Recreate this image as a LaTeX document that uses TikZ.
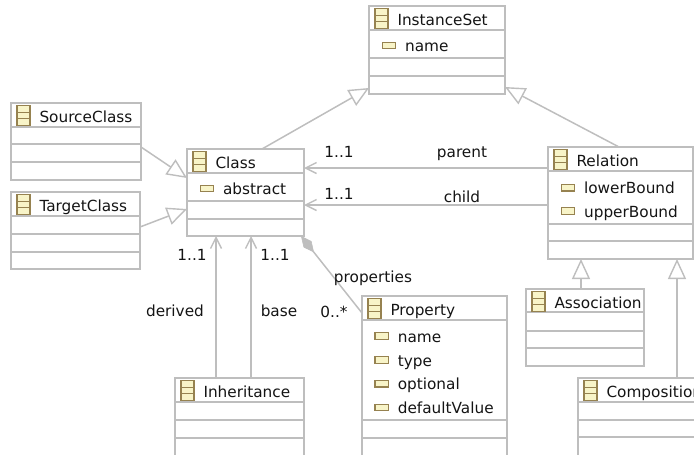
\documentclass[tikz,border=0pt]{standalone}
\usepackage{fontspec}
\setmainfont{DejaVu Sans}
\usetikzlibrary{arrows.meta}

\definecolor{umlline}{RGB}{190,190,190}
\definecolor{iconedge}{RGB}{150,130,80}
\definecolor{iconfill}{RGB}{248,244,200}
\definecolor{umltext}{RGB}{20,20,20}

\tikzset{
  classbox/.style={draw=umlline,line width=1.5pt,outer sep=0pt,inner sep=0pt,anchor=north west},
  classicon/.style={draw=iconedge,fill=iconfill,line width=1.2pt,anchor=north west,outer sep=0pt,inner sep=0pt,
    minimum width=13pt,minimum height=20pt,
    path picture={
      \draw[iconedge,line width=1pt]([yshift=3.3pt]path picture bounding box.west)--([yshift=3.3pt]path picture bounding box.east);
      \draw[iconedge,line width=1pt]([yshift=-3.3pt]path picture bounding box.west)--([yshift=-3.3pt]path picture bounding box.east);
    }},
  attricon/.style={draw=iconedge,fill=iconfill,line width=1.3pt,anchor=west,outer sep=0pt,inner sep=0pt,
    minimum width=13.5pt,minimum height=6.5pt},
  umllabel/.style={text=umltext,font=\fontsize{15.3}{17}\selectfont,inner sep=0pt,outer sep=0pt},
  umlname/.style={umllabel,anchor=base west},
  connector/.style={draw=umlline,line width=1.5pt},
  inherits/.style={connector,-{Triangle[length=20pt,width=18pt,fill=white,line width=1.4pt]}},
  refers/.style={connector,-{Straight Barb[length=11pt,width=11pt,line width=1.4pt]}},
  contains/.style={connector,-{Diamond[length=21pt,width=10pt,fill=umlline,line width=.6pt]}},
}

% box: name, left, top, right, bottom, title, compartment lines
\newcommand{\umlclass}[7]{
  \node[classbox,minimum width=#4pt-#2pt,minimum height=#5pt-#3pt](#1)at(#2,#3){};
  \foreach \liney in {#7}{
    \draw[umlline,line width=1.5pt](#2,\liney)--(#4,\liney);
  }
  \node[classicon](#1-icon)at(#2+6,#3+2.3){};
  \node[umlname](#1-title)at(#2+28.5,#3+19.2){#6};
}
% attribute: name, left of icon, middle of icon, text
\newcommand{\umlattr}[4]{
  \node[attricon](#1-icon)at(#2,#3){};
  \node[umlname](#1)at(#2+22.8,#3+6.2){#4};
}

\begin{document}
\begin{tikzpicture}[x=1pt,y=-1pt]
  \useasboundingbox(0,0)rectangle(694,455);
  \clip(0,0)rectangle(694,455);

  \umlclass{instanceset}{369}{6}{505}{94}{InstanceSet}{30,58,76}
  \umlattr{instanceset-name}{382.3}{45.5}{name}

  \umlclass{sourceclass}{11}{103}{141}{180}{SourceClass}{127,144,162}
  \umlclass{targetclass}{11}{192}{140}{269}{TargetClass}{216,234,252}

  \umlclass{class}{187}{149}{304}{236}{Class}{173,201,219}
  \umlattr{class-abstract}{200.3}{188.5}{abstract}

  \umlclass{relation}{548}{147}{693}{259}{Relation}{171,224,241}
  \umlattr{relation-lower}{561.3}{187.7}{lowerBound}
  \umlattr{relation-upper}{561.3}{211}{upperBound}

  \umlclass{association}{526}{289}{644}{366}{Association}{312,331,348}
  \umlclass{composition}{578}{378}{720}{480}{Composition}{402,420,437}

  \umlclass{property}{362}{296}{507}{480}{Property}{320,420,438}
  \umlattr{property-name}{375}{336}{name}
  \umlattr{property-type}{375}{360}{type}
  \umlattr{property-optional}{375}{383.7}{optional}
  \umlattr{property-default}{375}{407.5}{defaultValue}

  \umlclass{inheritance}{175}{378}{304}{480}{Inheritance}{402,420,438}

  % generalisations
  \draw[inherits]([yshift=33pt]sourceclass.south east)--([yshift=-29pt]class.north west);
  \draw[inherits]([yshift=-35pt]targetclass.north east)--([yshift=-60pt]class.north west);
  \draw[inherits]([xshift=75pt]class.north west)--([yshift=6pt]instanceset.south west);
  \draw[inherits]([xshift=71pt]relation.north west)--([yshift=7pt]instanceset.south east);
  \draw[inherits]([xshift=55pt]association.north west)--([xshift=33pt]relation.south west);
  \draw[inherits]([xshift=99pt]composition.north west)--([xshift=129pt]relation.south west);

  % references
  \draw[refers]([yshift=-21pt]relation.north west)--([yshift=-19pt]class.north east);
  \draw[refers]([yshift=-58pt]relation.north west)--([yshift=-56pt]class.north east);
  \draw[refers]([xshift=41pt]inheritance.north west)--([xshift=29pt]class.south west);
  \draw[refers]([xshift=76pt]inheritance.north west)--([xshift=64pt]class.south west);

  % containment
  \draw[contains]([yshift=-17pt]property.north west)--([xshift=-3pt]class.south east);

  % labels
  \node[umllabel](parent-mult)at(339,152){1..1};
  \node[umllabel](parent-role)at(462,153.5){parent};
  \node[umllabel](child-mult)at(339,194){1..1};
  \node[umllabel](child-role)at(462,197){child};
  \node[umllabel](derived-mult)at(192,255){1..1};
  \node[umllabel](base-mult)at(275,255){1..1};
  \node[umllabel](derived-role)at(175,311){derived};
  \node[umllabel](base-role)at(279,311){base};
  \node[umllabel](properties-role)at(373,278.5){properties};
  \node[umllabel](properties-mult)at(334,312){0..*};
\end{tikzpicture}
\end{document}
